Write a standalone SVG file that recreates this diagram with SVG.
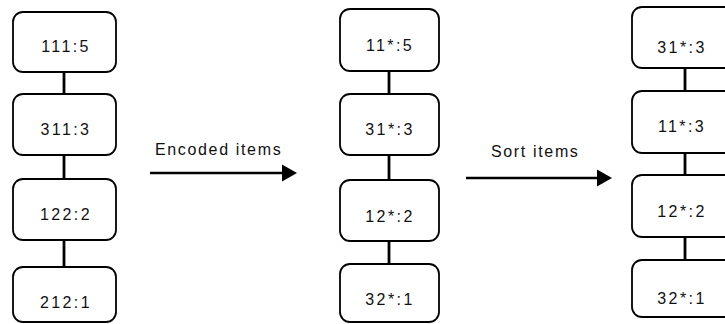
<svg xmlns="http://www.w3.org/2000/svg" width="725" height="324" viewBox="0 0 725 324">
  <style>
    .box { fill: #ffffff; stroke: #000000; stroke-width: 1.8; }
    .lbl { font-family: "Liberation Sans", Arial, sans-serif; font-size: 16px; letter-spacing: 2.4px; text-anchor: middle; fill: #111111; }
    .cap { font-family: "Liberation Sans", Arial, sans-serif; font-size: 16px; letter-spacing: 1.65px; fill: #111111; }
    .link { stroke: #000000; stroke-width: 2.8; fill: none; }
    .arrow { stroke: #000000; stroke-width: 2.6; fill: none; }
    .head { fill: #000000; }
  </style>
  <rect width="725" height="324" fill="#ffffff"/>

  <!-- connectors between stacked items, and the two step arrows -->
  <g id="connectors">
    <line class="link" x1="64" y1="72" x2="64" y2="94"/>
    <line class="link" x1="64" y1="155" x2="64" y2="179"/>
    <line class="link" x1="64" y1="240" x2="64" y2="267"/>

    <line class="link" x1="389" y1="71" x2="389" y2="94"/>
    <line class="link" x1="389" y1="155" x2="389" y2="180"/>
    <line class="link" x1="389" y1="241" x2="389" y2="264"/>

    <line class="link" x1="685" y1="68" x2="685" y2="91"/>
    <line class="link" x1="685" y1="153" x2="685" y2="175"/>
    <line class="link" x1="685" y1="237" x2="685" y2="260"/>

    <line class="arrow" x1="150" y1="173" x2="285" y2="173"/>
    <polygon class="head" points="282,164.5 297,173 282,181.5"/>
    <line class="arrow" x1="466" y1="178" x2="600" y2="178"/>
    <polygon class="head" points="597,169.5 612,178 597,186.5"/>
  </g>

  <g id="label-encoded">
    <text class="cap" x="155" y="155">Encoded items</text>
  </g>
  <g id="label-sort">
    <text class="cap" x="491" y="157">Sort items</text>
  </g>

  <!-- original items -->
  <g id="n-111-5">
    <rect class="box" x="13" y="12" width="103" height="60" rx="10"/>
    <text class="lbl" x="66" y="52">111:5</text>
  </g>
  <g id="n-311-3">
    <rect class="box" x="13" y="94" width="103" height="61" rx="10"/>
    <text class="lbl" x="66" y="135">311:3</text>
  </g>
  <g id="n-122-2">
    <rect class="box" x="13" y="179" width="103" height="61" rx="10"/>
    <text class="lbl" x="66" y="220">122:2</text>
  </g>
  <g id="n-212-1">
    <rect class="box" x="13" y="267" width="103" height="55" rx="10"/>
    <text class="lbl" x="66" y="308">212:1</text>
  </g>

  <!-- encoded items -->
  <g id="n-11x-5">
    <rect class="box" x="340" y="9" width="99" height="62" rx="10"/>
    <text class="lbl" x="390" y="51">11*:5</text>
  </g>
  <g id="n-31x-3a">
    <rect class="box" x="340" y="94" width="99" height="61" rx="10"/>
    <text class="lbl" x="390" y="135">31*:3</text>
  </g>
  <g id="n-12x-2a">
    <rect class="box" x="340" y="180" width="99" height="61" rx="10"/>
    <text class="lbl" x="390" y="222">12*:2</text>
  </g>
  <g id="n-32x-1a">
    <rect class="box" x="340" y="264" width="99" height="58" rx="10"/>
    <text class="lbl" x="390" y="305">32*:1</text>
  </g>

  <!-- sorted items -->
  <g id="n-31x-3b">
    <rect class="box" x="632" y="7" width="106" height="61" rx="10"/>
    <text class="lbl" x="682" y="53">31*:3</text>
  </g>
  <g id="n-11x-3">
    <rect class="box" x="632" y="91" width="106" height="62" rx="10"/>
    <text class="lbl" x="682" y="132">11*:3</text>
  </g>
  <g id="n-12x-2b">
    <rect class="box" x="632" y="175" width="106" height="62" rx="10"/>
    <text class="lbl" x="682" y="217">12*:2</text>
  </g>
  <g id="n-32x-1b">
    <rect class="box" x="632" y="260" width="106" height="57" rx="10"/>
    <text class="lbl" x="682" y="304">32*:1</text>
  </g>
</svg>
